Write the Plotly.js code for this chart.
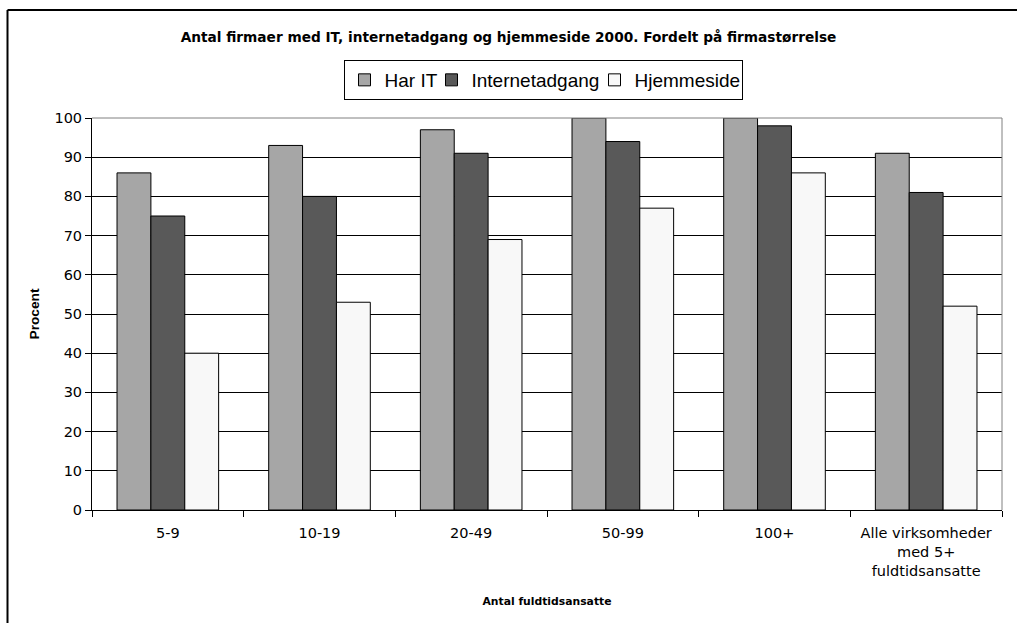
<!DOCTYPE html>
<html>
<head>
<meta charset="utf-8">
<script src="https://cdn.plot.ly/plotly-3.0.1.min.js"></script>
<style>
html,body{margin:0;padding:0;background:#fff;}
#chart{width:1017px;height:623px;}
</style>
</head>
<body>
<div id="chart"></div>
<script>
const categories = ["5-9", "10-19", "20-49", "50-99", "100+", "Alle virksomheder<br>med 5+<br>fuldtidsansatte"];
const harIT = [86, 93, 97, 100, 100, 91];
const internetadgang = [75, 80, 91, 94, 98, 81];
const hjemmeside = [40, 53, 69, 77, 86, 52];
const yTicks = [0, 10, 20, 30, 40, 50, 60, 70, 80, 90, 100];

const ARIAL = "Liberation Sans, Arial, sans-serif";
const WIDE = "DejaVu Sans, Verdana, sans-serif";
const W = 1017, H = 623;
const L = 92, R = 15, T = 118, B = 113;
const pw = W - L - R, ph = H - T - B;
const px = v => (v - L) / pw;
const py = v => (H - B - v) / ph;

const lineStyle = {color: "#000", width: 1};
const traces = [
  {type: "bar", name: "Har IT", x: categories, y: harIT, legendwidth: 42,
   marker: {color: "#a6a6a6", line: lineStyle}},
  {type: "bar", name: "Internetadgang", x: categories, y: internetadgang, legendwidth: 118,
   marker: {color: "#595959", line: lineStyle}},
  {type: "bar", name: "Hjemmeside", x: categories, y: hjemmeside, legendwidth: 102,
   marker: {color: "#f8f8f8", line: lineStyle}}
];

const layout = {
  width: W, height: H,
  margin: {l: L, r: R, t: T, b: B, pad: 0},
  paper_bgcolor: "#fff", plot_bgcolor: "#fff",
  font: {family: WIDE, color: "#000", size: 14.5},
  barmode: "group", bargap: 0.33, bargroupgap: 0,
  title: {
    text: "<b>Antal firmaer med IT, internetadgang og hjemmeside 2000. Fordelt på firmastørrelse</b>",
    font: {family: WIDE, size: 13.7, color: "#000"},
    x: 0.5, xref: "container", xanchor: "center",
    y: 1 - 37 / H, yref: "container", yanchor: "middle"
  },
  legend: {
    orientation: "h", x: px(543), xanchor: "center", y: py(60), yanchor: "top",
    bordercolor: "#000", borderwidth: 1, bgcolor: "#fff",
    font: {family: ARIAL, size: 19, color: "#000"},
    itemwidth: 30, tracegroupgap: 0, traceorder: "normal"
  },
  xaxis: {
    type: "category",
    showline: true, linecolor: "#000", linewidth: 1,
    ticks: "outside", tickson: "boundaries", ticklen: 6, tickcolor: "#000",
    ticklabelstandoff: 10,
    tickfont: {family: WIDE, size: 14.5, color: "#000"},
    showgrid: false, zeroline: false,
    title: {text: "<b>Antal fuldtidsansatte</b>", font: {family: WIDE, size: 10.8, color: "#000"}, standoff: 19}
  },
  yaxis: {
    range: [0, 100], tickvals: yTicks, ticktext: yTicks.map(String),
    showline: true, linecolor: "#000", linewidth: 1,
    ticks: "outside", ticklen: 6, tickcolor: "#000",
    tickfont: {family: WIDE, size: 14.5, color: "#000"},
    showgrid: true, gridcolor: "#000", gridwidth: 1, zeroline: false,
    title: {text: "<b>Procent</b>", font: {family: ARIAL, size: 13.7, color: "#000"}, standoff: 11}
  },
  shapes: [
    {type: "path", xref: "paper", yref: "paper",
     path: "M 0 1 L 1 1 L 1 0", line: {color: "#808080", width: 1}, layer: "above"},
    {type: "line", xref: "paper", yref: "paper", x0: px(7.5), x1: px(7.5), y0: py(H + 5), y1: py(10),
     line: {color: "#000", width: 2}},
    {type: "line", xref: "paper", yref: "paper", x0: px(7.5), x1: px(W + 5), y0: py(10), y1: py(10),
     line: {color: "#000", width: 2}}
  ],
  showlegend: true
};

Plotly.newPlot("chart", traces, layout, {displayModeBar: false, staticPlot: true});
</script>
</body>
</html>
